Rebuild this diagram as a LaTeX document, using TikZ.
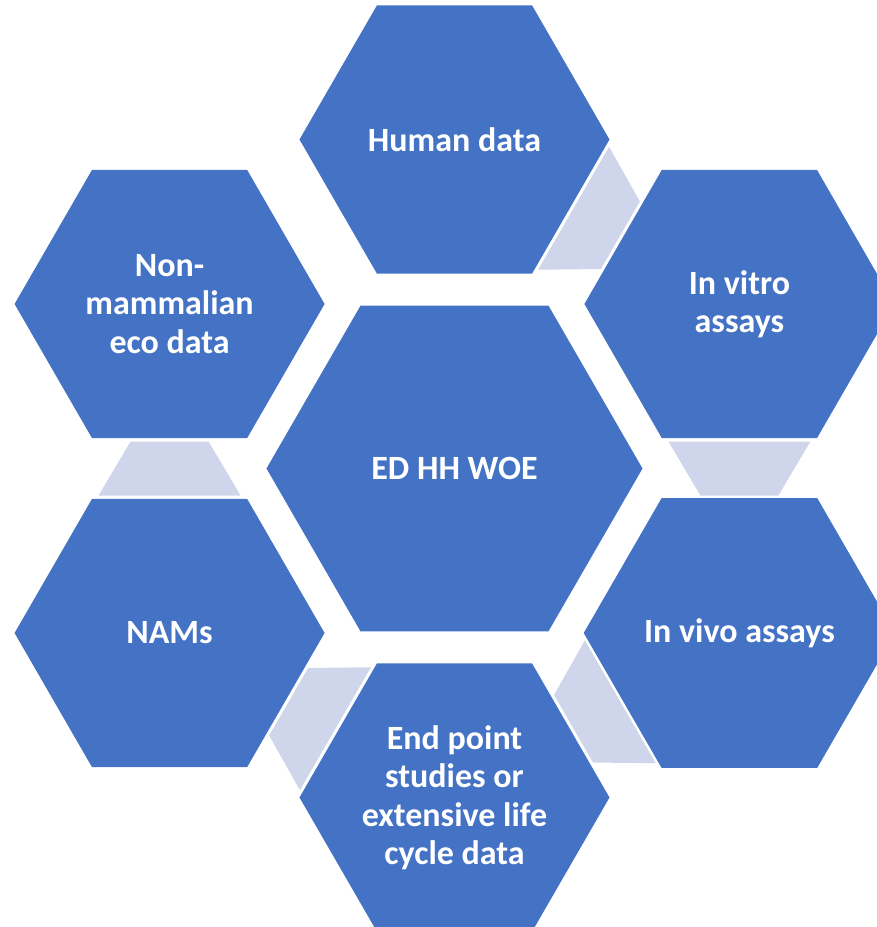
\documentclass[tikz,border=0pt]{standalone}
\usepackage{fontspec}
\setmainfont{Carlito}
\usetikzlibrary{shapes.geometric,calc}
\definecolor{hexblue}{RGB}{68,114,196}
\definecolor{linkgray}{RGB}{207,213,234}
\begin{document}
\begin{tikzpicture}[
	x=1pt, y=1pt,
	hexa/.style={regular polygon, regular polygon sides=6, minimum size=310pt,
		inner sep=0pt, fill=hexblue, text=white, align=center,
		font=\fontsize{34}{38.5}\selectfont\bfseries},
	hub/.style={hexa, minimum size=376pt},
	link/.style={fill=linkgray}]
\clip (-454.5,-458.5) rectangle (422.5,468.5);
\node[hub] (woe) at (0,0) {ED HH WOE};
\node[hexa] (human) at (90:329) {Human data};
\node[hexa] (vitro) at (30:329) {In vitro\\assays};
\node[hexa] (vivo) at (-30:329) {In vivo assays};
\node[hexa] (endpt) at (-90:329) {End point\\studies or\\extensive life\\cycle data};
\node[hexa] (nams) at (-150:329) {NAMs};
\node[hexa] (nonmam) at (150:329) {Non-\\mammalian\\eco data};
\foreach \a/\b in {human/vitro,vitro/vivo,vivo/endpt,endpt/nams,nams/nonmam}
	\fill[link] ($(\a.center)!0.5!(\b.center)!-27pt!(\b.center)!71pt!90:(\b.center)$)
		-- ($(\a.center)!0.5!(\b.center)!27pt!(\b.center)!39pt!90:(\b.center)$)
		-- ($(\a.center)!0.5!(\b.center)!27pt!(\b.center)!39pt!-90:(\b.center)$)
		-- ($(\a.center)!0.5!(\b.center)!-27pt!(\b.center)!71pt!-90:(\b.center)$)
		-- cycle;
\end{tikzpicture}
\end{document}
